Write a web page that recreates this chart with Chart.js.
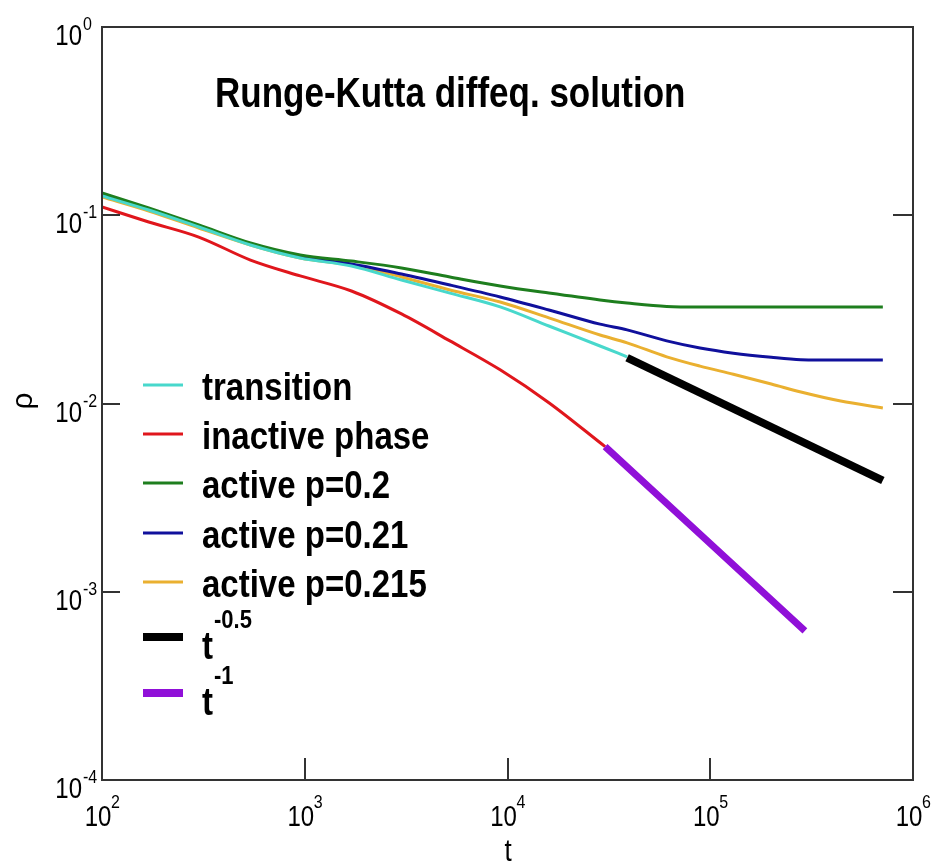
<!DOCTYPE html>
<html lang="en">
<head>
<meta charset="UTF-8">
<title>Runge-Kutta diffeq. solution</title>
<script src="https://cdn.jsdelivr.net/npm/chart.js"></script>
<style>
    html, body { margin: 0; padding: 0; background: #fff; }
    #wrap { position: relative; width: 933px; height: 864px; }
</style>
</head>
<body>
<div id="wrap"><canvas id="rkChart"></canvas></div>
<script>
    // time grid (t)
    const tGrid = [100, 170, 300, 540, 950, 1700, 3000, 5200, 9200, 16000, 28600,
                   38900, 61000, 89000, 130000, 200000, 280000, 440000, 710000];
    const tInactive = [100, 170, 300, 540, 950, 1700, 3000, 5200, 9200, 16000, 30300];

    const rhoTransition = [0.1266, 0.1066, 0.0866, 0.0695, 0.0593, 0.0537, 0.0453, 0.0386,
                           0.0326, 0.0258, 0.0202, 0.0177];
    const rhoInactive = [0.1106, 0.0921, 0.0766, 0.0578, 0.0476, 0.0396, 0.0299, 0.0215,
                         0.0151, 0.0101, 0.0059];
    const rhoP020 = [0.1313, 0.1093, 0.0888, 0.0712, 0.0615, 0.0571, 0.0525, 0.0470, 0.0421,
                     0.0386, 0.0355, 0.0342, 0.0328, 0.0326, 0.0326, 0.0326, 0.0326, 0.0326, 0.0326];
    const rhoP021 = [0.1297, 0.1079, 0.0877, 0.0704, 0.0600, 0.0551, 0.0487, 0.0426, 0.0368,
                     0.0314, 0.0264, 0.0246, 0.0215, 0.0197, 0.0185, 0.0176, 0.0171, 0.0170, 0.0170];
    const rhoP0215 = [0.1250, 0.1053, 0.0856, 0.0695, 0.0593, 0.0544, 0.0470, 0.0401, 0.0346,
                      0.0285, 0.0231, 0.0210, 0.0177, 0.0158, 0.0143, 0.0127, 0.0115, 0.0103, 0.00946];

    const tHalf = [38900, 710000];
    const rhoHalf = [0.0175, 0.0039];
    const tOne = [30300, 293000];
    const rhoOne = [0.0059, 0.00062];

    const xTicks = [2, 3, 4, 5, 6];
    const yTicks = [0, -1, -2, -3, -4];

    const legendNames = ['transition', 'inactive phase', 'active p=0.2', 'active p=0.21', 'active p=0.215'];

    function pts(ts, ys) {
        return ys.map((y, i) => ({ x: ts[i], y: y }));
    }

    const SY = 1.2; // vertical stretch of the lettering in the picture

    function stretchedText(ctx, s, x, y, font, align) {
        ctx.save();
        ctx.translate(x, y);
        ctx.scale(1, SY);
        ctx.font = font;
        ctx.textAlign = align || 'left';
        ctx.textBaseline = 'alphabetic';
        ctx.fillStyle = '#000';
        ctx.fillText(s, 0, 0);
        ctx.restore();
    }

    const framePlugin = {
        id: 'frame',
        afterDraw(chart) {
            const ctx = chart.ctx;
            const a = chart.chartArea;
            const xs = chart.scales.x, ys = chart.scales.y;

            ctx.save();
            ctx.strokeStyle = '#333';
            ctx.lineWidth = 2;
            ctx.strokeRect(a.left, a.top, a.right - a.left, a.bottom - a.top);

            // inward ticks
            ctx.beginPath();
            xTicks.forEach(e => {
                const px = Math.round(xs.getPixelForValue(Math.pow(10, e)));
                ctx.moveTo(px, a.bottom);
                ctx.lineTo(px, a.bottom - 22);
            });
            yTicks.forEach(e => {
                const py = Math.round(ys.getPixelForValue(Math.pow(10, e)));
                ctx.moveTo(a.left, py);
                ctx.lineTo(a.left + 18, py);
                ctx.moveTo(a.right, py);
                ctx.lineTo(a.right - 20, py);
            });
            ctx.stroke();

            // tick labels
            const big = '24px "Liberation Sans", Arial, sans-serif';
            const sup = '16px "Liberation Sans", Arial, sans-serif';
            xTicks.forEach(e => {
                const px = xs.getPixelForValue(Math.pow(10, e));
                stretchedText(ctx, '10', px - 4, 826, big, 'center');
                stretchedText(ctx, String(e), px + 9, 808, sup, 'left');
            });
            yTicks.forEach(e => {
                const py = ys.getPixelForValue(Math.pow(10, e));
                stretchedText(ctx, '10', 82, py + 18, big, 'right');
                stretchedText(ctx, String(e), 83, py + 3, sup, 'left');
            });

            // axis titles
            ctx.save();
            ctx.translate(32, 401);
            ctx.rotate(-Math.PI / 2);
            ctx.font = '30px "Liberation Sans", Arial, sans-serif';
            ctx.textAlign = 'center';
            ctx.fillStyle = '#000';
            ctx.fillText('\u03c1', 0, 0);
            ctx.restore();
            stretchedText(ctx, 't', 508, 861, '26px "Liberation Sans", Arial, sans-serif', 'center');

            // title
            stretchedText(ctx, 'Runge-Kutta diffeq. solution', 215, 107,
                'bold 35px "Liberation Sans", Arial, sans-serif', 'left');

            // legend
            const bold = 'bold 33px "Liberation Sans", Arial, sans-serif';
            const rows = [385, 434, 483, 533, 582];
            const ds = chart.data.datasets;
            rows.forEach((ry, i) => {
                ctx.strokeStyle = ds[i].borderColor;
                ctx.lineWidth = 3;
                ctx.beginPath();
                ctx.moveTo(143, ry);
                ctx.lineTo(183, ry);
                ctx.stroke();
                stretchedText(ctx, legendNames[i], 202, ry + 15, bold, 'left');
            });
            [[637, 5, '-0.5'], [693, 6, '-1']].forEach(([ry, i, ex]) => {
                ctx.strokeStyle = ds[i].borderColor;
                ctx.lineWidth = 8;
                ctx.beginPath();
                ctx.moveTo(143, ry);
                ctx.lineTo(183, ry);
                ctx.stroke();
                stretchedText(ctx, 't', 202, ry + 22, bold, 'left');
                stretchedText(ctx, ex, 214, ry - 9, 'bold 22px "Liberation Sans", Arial, sans-serif', 'left');
            });
            ctx.restore();
        }
    };

    new Chart(document.getElementById('rkChart'), {
        type: 'line',
        data: {
            datasets: [
                { label: 'transition', data: pts(tGrid, rhoTransition), borderColor: '#48d8cc', borderWidth: 3, order: 2 },
                { label: 'inactive phase', data: pts(tInactive, rhoInactive), borderColor: '#e0161c', borderWidth: 3, order: 2 },
                { label: 'active p=0.2', data: pts(tGrid, rhoP020), borderColor: '#1e7e1e', borderWidth: 3, order: 2 },
                { label: 'active p=0.21', data: pts(tGrid, rhoP021), borderColor: '#10109c', borderWidth: 3, order: 2 },
                { label: 'active p=0.215', data: pts(tGrid, rhoP0215), borderColor: '#eab030', borderWidth: 3, order: 2 },
                { label: 't^-0.5', data: pts(tHalf, rhoHalf), borderColor: '#000000', borderWidth: 8, order: 1 },
                { label: 't^-1', data: pts(tOne, rhoOne), borderColor: '#9010d8', borderWidth: 7, order: 1 }
            ]
        },
        options: {
            responsive: true,
            maintainAspectRatio: false,
            animation: false,
            layout: { padding: { left: 102, top: 27, right: 20, bottom: 84 } },
            elements: {
                point: { radius: 0 },
                line: { cubicInterpolationMode: 'monotone', fill: false }
            },
            plugins: { legend: { display: false }, tooltip: { enabled: false } },
            scales: {
                x: { type: 'logarithmic', min: 100, max: 1000000, display: false },
                y: { type: 'logarithmic', min: 0.0001, max: 1, display: false }
            }
        },
        plugins: [framePlugin]
    });
</script>
</body>
</html>
